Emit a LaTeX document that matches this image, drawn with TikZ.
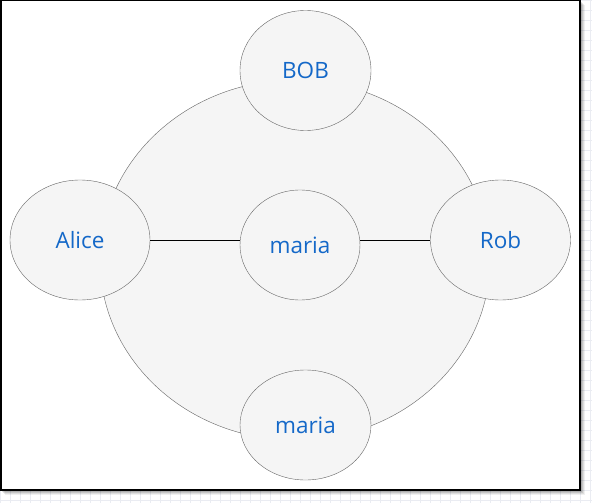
\documentclass[tikz,border=0pt]{standalone}
\usepackage{fontspec}
\setmainfont{Open Sans}
\usetikzlibrary{shapes.geometric}
\definecolor{namecol}{RGB}{20,104,200}
\definecolor{bubblefill}{RGB}{245,245,245}
\definecolor{bubbleline}{RGB}{102,102,102}
\definecolor{gridcol}{RGB}{234,236,242}
\begin{document}
\begin{tikzpicture}[x=1pt,y=-1pt,
    bubble/.style={ellipse,draw=bubbleline,fill=bubblefill,inner sep=0pt,
        text=namecol,font=\fontsize{22.5}{27}\selectfont},
    person/.style={bubble,minimum width=140pt,minimum height=120pt}]
    \useasboundingbox (0,0) rectangle (592,503);
    % page grid and shadow
    \draw[gridcol,step=10pt] (0,0) grid (592,503);
    \foreach \d/\o in {5/0.06,4/0.08,3/0.1,2/0.12} {
        \fill[black,opacity=\o] (\d,\d) rectangle (580+\d,490+\d);
    }
    \draw[line width=1.5pt,fill=white] (0.75,0.75) rectangle (580,490);
    % outer ring
    \node[bubble,minimum width=390pt,minimum height=360pt] (ring) at (295,260) {};
    % people
    \node[person,minimum width=131pt] (bob) at (305.5,70.5) {BOB};
    \node[person] (alice) at (80,240) {Alice};
    \node[person] (rob) at (500.5,240) {Rob};
    \node[bubble,minimum width=120pt,minimum height=110pt] (mariac) at (300,245) {maria};
    \node[bubble,minimum width=131pt,minimum height=110pt] (mariab) at (305.5,425) {maria};
    % links through the middle
    \draw (alice.east) -- (alice.east -| mariac.west);
    \draw (rob.west -| mariac.east) -- (rob.west);
\end{tikzpicture}
\end{document}
